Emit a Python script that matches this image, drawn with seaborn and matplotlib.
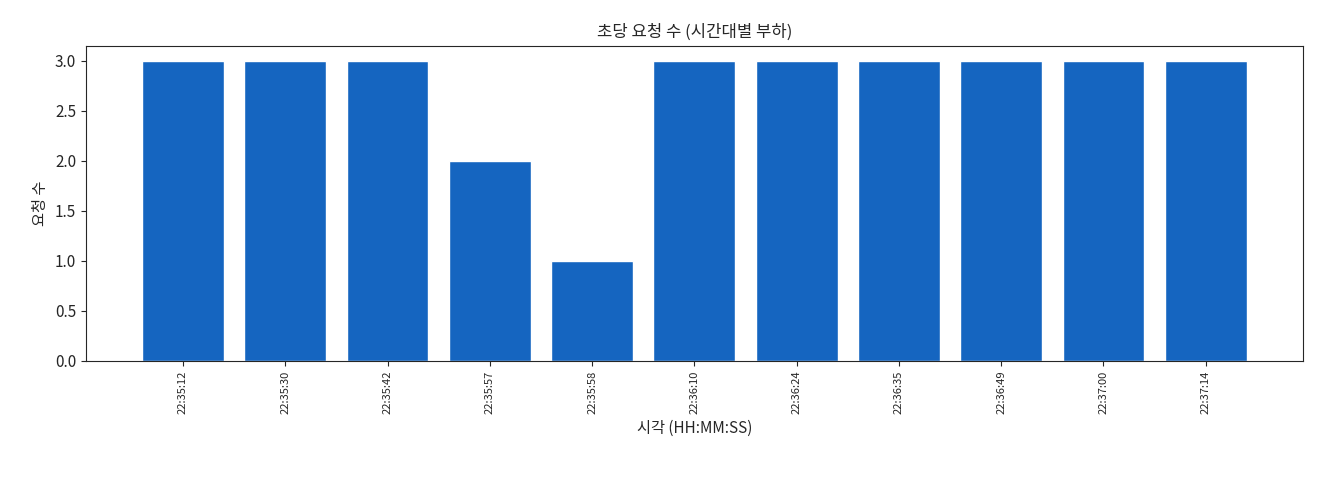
import seaborn as sns
import matplotlib.pyplot as plt
import pandas as pd

# Data
times = ["22:35:12", "22:35:30", "22:35:42", "22:35:57", "22:35:58", "22:36:10",
         "22:36:24", "22:36:35", "22:36:49", "22:37:00", "22:37:14"]
counts = [3, 3, 3, 2, 1, 3, 3, 3, 3, 3, 3]

df = pd.DataFrame({"time": times, "count": counts})

sns.set_style("ticks")
plt.rcParams['font.family'] = ['Noto Sans CJK KR', 'DejaVu Sans']

fig, ax = plt.subplots(figsize=(13.2, 4.8), dpi=100)
sns.barplot(data=df, x="time", y="count", color="#1565C0", saturation=1, width=0.8, ax=ax)

ax.set_xlim(-0.95, len(times) - 0.05)
ax.set_title("초당 요청 수 (시간대별 부하)", fontsize=12)
ax.set_xlabel("시각 (HH:MM:SS)", fontsize=11)
ax.set_ylabel("요청 수", fontsize=11)
ax.tick_params(axis='x', labelrotation=90, labelsize=8)
ax.tick_params(axis='y', labelsize=11)
for s in ax.spines.values():
    s.set_visible(True)

fig.subplots_adjust(left=0.065, right=0.987, top=0.905, bottom=0.248)
fig.savefig("out.png")
